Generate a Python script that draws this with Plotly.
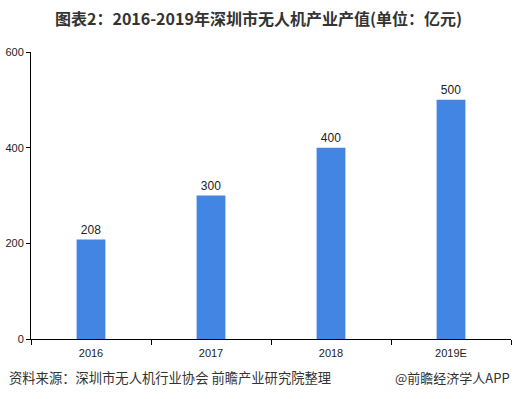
import plotly.graph_objects as go

categories = ["2016", "2017", "2018", "2019E"]
values = [208, 300, 400, 500]
y_ticks = [0, 200, 400, 600]

title_text = "图表2：2016-2019年深圳市无人机产业产值(单位：亿元)"
source_text = "资料来源：深圳市无人机行业协会 前瞻产业研究院整理"
brand_text = "@前瞻经济学人APP"

bar_color = "#4285E3"
cjk = "Noto Sans CJK SC"
num_font = "Liberation Sans, Arial, sans-serif"

fig = go.Figure(go.Bar(
    x=categories, y=values, width=0.24,
    marker=dict(color=bar_color, line=dict(width=0)),
    text=[str(v) for v in values], textposition="outside",
    textfont=dict(family=num_font, size=12, color="#222222"),
    cliponaxis=False,
))

fig.update_layout(
    width=517, height=399,
    margin=dict(l=31, r=6, t=52, b=60, autoexpand=False),
    paper_bgcolor="white", plot_bgcolor="white",
    showlegend=False,
    title=dict(text="<b>" + title_text + "</b>", x=0.5, xanchor="center",
               y=1 - 19 / 399, yanchor="middle",
               font=dict(family=cjk, size=16, color="#333333")),
    font=dict(family=num_font, size=11, color="#222222"),
    xaxis=dict(
        type="category", showline=True, linecolor="#000000", linewidth=1,
        ticks="outside", tickson="boundaries", ticklen=5, tickcolor="#000000",
        showgrid=False, tickfont=dict(family=num_font, size=11, color="#222222"),
        range=[-0.5, 3.5], automargin=False, ticklabelstandoff=4,
    ),
    yaxis=dict(
        range=[0, 600], tickvals=y_ticks, showline=True, linecolor="#000000",
        linewidth=1, ticks="outside", ticklen=4, tickcolor="#000000",
        showgrid=False, zeroline=False, automargin=False,
        tickfont=dict(family=num_font, size=11, color="#222222"),
    ),
    bargap=0.76,
)

fig.add_annotation(text=source_text, xref="paper", yref="paper",
                   x=-24 / 480, y=-(377 - 339) / 287, xanchor="left", yanchor="middle",
                   showarrow=False, font=dict(family=cjk, size=13.3, color="#333333"))
fig.add_annotation(text=brand_text, xref="paper", yref="paper",
                   x=1 + 1 / 480, y=-(377 - 339) / 287, xanchor="right", yanchor="middle",
                   showarrow=False, font=dict(family=cjk, size=13, color="#333333"))

fig.write_html("out.html", config={"displayModeBar": False})

with open("out.html", "r", encoding="utf-8") as f:
    html = f.read()
html = html.replace("<head>", "<head><style>html,body{margin:0;padding:0;overflow:hidden;}</style>", 1)
with open("out.html", "w", encoding="utf-8") as f:
    f.write(html)
